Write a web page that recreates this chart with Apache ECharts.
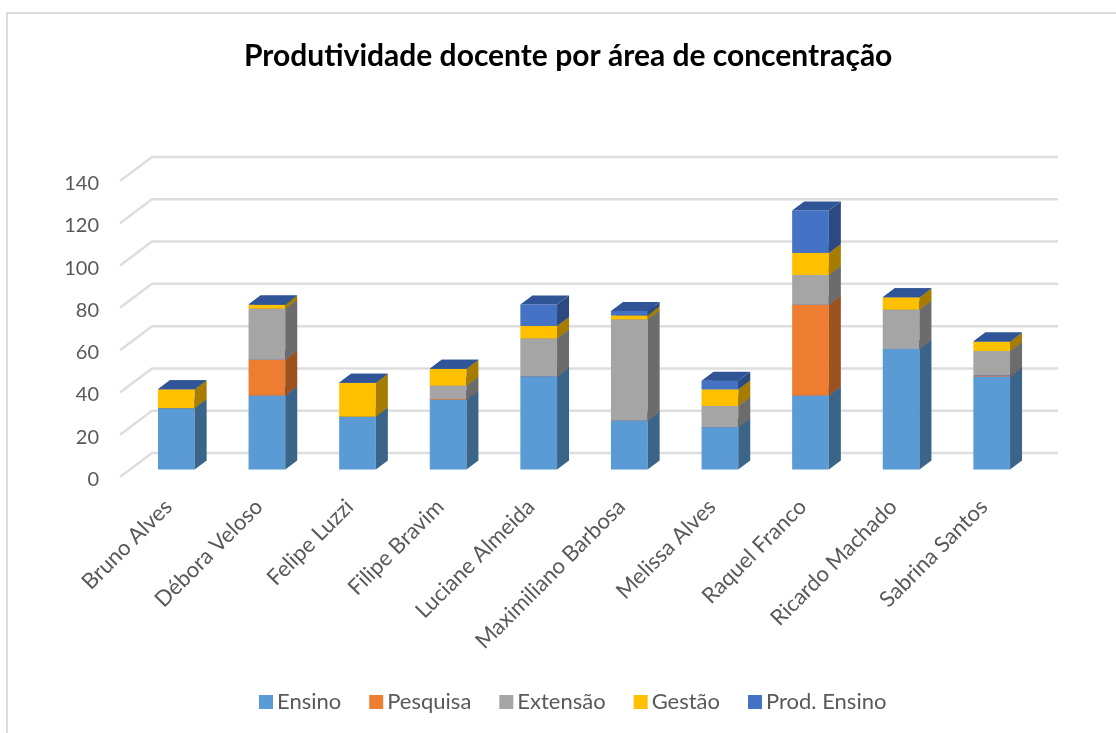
<!DOCTYPE html>
<html>
<head>
<meta charset="utf-8">
<style>
  html, body { margin: 0; padding: 0; background: #fff; }
  #chart { width: 1116px; height: 733px; }
</style>
<script src="https://cdn.jsdelivr.net/npm/echarts@6/dist/echarts.min.js"></script>
</head>
<body>
<div id="chart"></div>
<script>
const docentes = ['Bruno Alves', 'Débora Veloso', 'Felipe Luzzi', 'Filipe Bravim', 'Luciane Almeida',
  'Maximiliano Barbosa', 'Melissa Alves', 'Raquel Franco', 'Ricardo Machado', 'Sabrina Santos'];
const ensino = [29, 35, 25, 33, 44, 23, 20, 35, 57, 44];
const pesquisa = [0, 17, 0, 0.3, 0, 0, 0, 43, 0, 0.5];
const extensao = [0, 24, 0, 6.3, 18, 48, 10, 14, 18.5, 11.5];
const gestao = [9, 2, 16, 8, 6, 2, 8, 10.5, 6, 4.5];
const prodEnsino = [0, 0, 0, 0, 10, 2, 4, 20, 0, 0];
const yTicks = [0, 20, 40, 60, 80, 100, 120, 140];

// deslocamento da perspectiva, em pixels
const DEPTH_BAR_START = [11, -7.5];
const DEPTH_BAR = [12, -9];
const DEPTH_WALL = [32, -24];

const chart = echarts.init(document.getElementById('chart'));

const shade = (c) => ({
  '#5b9bd5': '#3a6589', '#ed7d31': '#9c5220', '#a5a5a5': '#6c6c6c',
  '#ffc000': '#a67d00', '#4472c4': '#2c4a80'
}[c]);

const renderBox = (color) => (params, api) => {
  const i = api.value(0);
  const p0 = api.coord([i, api.value(1)]);
  const p1 = api.coord([i, api.value(2)]);
  const w = api.size([1, 0])[0] * 0.405;
  const x = p0[0] - w / 2 + DEPTH_BAR_START[0];
  const yb = p0[1] + DEPTH_BAR_START[1];
  const yt = p1[1] + DEPTH_BAR_START[1];
  const [dx, dy] = DEPTH_BAR;
  return {
    type: 'group',
    children: [
      { type: 'rect', shape: { x, y: yt, width: w, height: yb - yt }, style: { fill: color } },
      {
        type: 'polygon',
        shape: { points: [[x + w, yb], [x + w + dx, yb + dy], [x + w + dx, yt + dy], [x + w, yt]] },
        style: { fill: shade(color) }
      },
      {
        type: 'polygon',
        shape: { points: [[x, yt], [x + dx, yt + dy], [x + w + dx, yt + dy], [x + w, yt]] },
        style: { fill: '#2f5597' }
      }
    ]
  };
};

// linhas de grade: parede lateral + parede do fundo
const renderGrid = (params, api) => {
  const p = api.coord([0, api.value(0)]);
  const left = p[0] - api.size([1, 0])[0] / 2;
  const right = left + api.size([1, 0])[0] * docentes.length + DEPTH_WALL[0];
  const style = { stroke: '#dedede', lineWidth: 2.5, fill: 'none' };
  return {
    type: 'polyline',
    shape: { points: [[left, p[1]], [left + DEPTH_WALL[0], p[1] + DEPTH_WALL[1]], [right, p[1] + DEPTH_WALL[1]]] },
    style
  };
};

const layers = [
  ['Ensino', ensino, '#5b9bd5'],
  ['Pesquisa', pesquisa, '#ed7d31'],
  ['Extensão', extensao, '#a5a5a5'],
  ['Gestão', gestao, '#ffc000'],
  ['Prod. Ensino', prodEnsino, '#4472c4']
];

const base = docentes.map(() => 0);
const boxSeries = layers.map(([name, values, color]) => {
  const data = values.map((v, i) => {
    const row = [i, base[i], base[i] + v];
    base[i] += v;
    return row;
  });
  return {
    name,
    type: 'custom',
    renderItem: renderBox(color),
    itemStyle: { color },
    encode: { x: 0, y: [1, 2] },
    data,
    z: 3
  };
});

chart.setOption({
  animation: false,
  textStyle: { fontFamily: 'Lato' },
  title: {
    text: 'Produtividade docente por área de concentração',
    left: 239,
    top: 36,
    textStyle: { fontFamily: 'Lato', fontWeight: 'bold', fontSize: 30, color: '#000' }
  },
  legend: {
    left: 254,
    top: 686,
    icon: 'rect',
    itemWidth: 14,
    itemHeight: 14,
    itemGap: 28,
    textStyle: { fontFamily: 'Lato', fontSize: 22, color: '#595959', padding: [0, 0, 0, -1] },
    data: layers.map((l) => l[0])
  },
  grid: { left: 120, right: 90, top: 181, bottom: 256 },
  xAxis: {
    type: 'category',
    data: docentes,
    axisLine: { show: false },
    axisTick: { show: false },
    axisLabel: { rotate: 45, interval: 0, fontSize: 22, color: '#595959', margin: 23, verticalAlign: 'top', lineHeight: 9 }
  },
  yAxis: {
    type: 'value',
    min: 0,
    max: 140,
    interval: 20,
    splitLine: { show: false },
    axisLine: { show: false },
    axisTick: { show: false },
    axisLabel: { fontSize: 20, color: '#595959', margin: 21, verticalAlign: 'top', lineHeight: 5 }
  },
  graphic: [
    { type: 'polyline', shape: { points: [[7, 733], [7, 13], [1116, 13]] }, style: { stroke: '#dcdcdc', lineWidth: 2, fill: 'none' }, silent: true }
  ],
  series: [
    {
      name: 'grade',
      type: 'custom',
      renderItem: renderGrid,
      encode: { y: 0 },
      data: yTicks.map((t) => [t]),
      silent: true,
      z: 1
    },
    ...boxSeries
  ]
});

window.addEventListener('resize', () => chart.resize());
</script>
</body>
</html>
